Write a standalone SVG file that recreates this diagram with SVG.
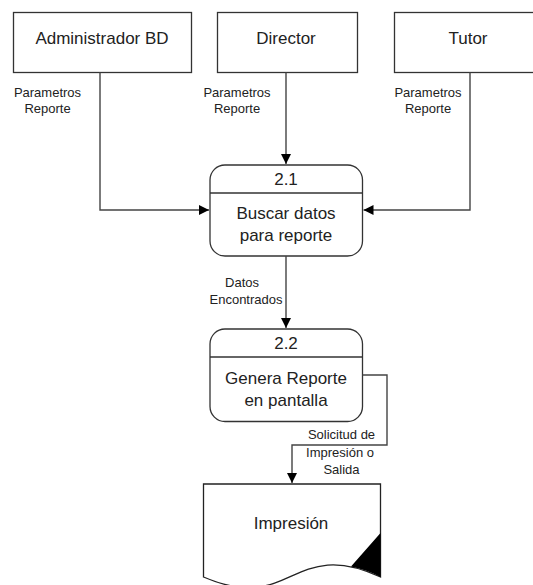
<svg xmlns="http://www.w3.org/2000/svg" width="533" height="585" viewBox="0 0 533 585">
<style>
.box{fill:#fff;stroke:#333;stroke-width:1.3}
.conn{fill:none;stroke:#444;stroke-width:1.4}
.t{font-family:"Liberation Sans",Arial,sans-serif;font-size:17px;fill:#222;text-anchor:middle}
.s{font-family:"Liberation Sans",Arial,sans-serif;font-size:13px;fill:#222;text-anchor:middle}
</style>
<defs>
<marker id="arr" viewBox="0 0 10 10" refX="10" refY="5" markerWidth="10" markerHeight="10" markerUnits="userSpaceOnUse" orient="auto">
<path d="M0,0 L10,5 L0,10 Z" fill="#000"/>
</marker>
</defs>
<rect width="533" height="585" fill="#fff"/>
<g id="admin">
<rect class="box" x="13.5" y="12.5" width="178" height="60"/>
<text class="t" x="102" y="44">Administrador BD</text>
</g>
<g id="director">
<rect class="box" x="217.5" y="12.5" width="140" height="60"/>
<text class="t" x="286" y="44">Director</text>
</g>
<g id="tutor">
<rect class="box" x="394.5" y="12.5" width="145" height="60"/>
<text class="t" x="468" y="44">Tutor</text>
</g>
<g id="p21">
<rect class="box" x="210" y="165" width="152.5" height="91" rx="15"/>
<line x1="210" y1="193" x2="362.5" y2="193" stroke="#333" stroke-width="1.3"/>
<text class="t" x="286" y="185">2.1</text>
<text class="t" x="286" y="219">Buscar datos</text>
<text class="t" x="286" y="241">para reporte</text>
</g>
<g id="p22">
<rect class="box" x="210" y="329" width="152.5" height="92.5" rx="15"/>
<line x1="210" y1="357" x2="362.5" y2="357" stroke="#333" stroke-width="1.3"/>
<text class="t" x="286" y="349">2.2</text>
<text class="t" x="286" y="384">Genera Reporte</text>
<text class="t" x="286" y="406">en pantalla</text>
</g>
<g id="impresion">
<path d="M203.5,484 L380.5,484 L380.5,577 C292,536 292,615 203.5,577 Z" fill="#fff" stroke="#222" stroke-width="1.3"/>
<path d="M380.5,533 L351,566.5 C362,569 371,572 380.5,577 Z" fill="#000"/>
<text class="t" x="291" y="529">Impresión</text>
</g>
<g id="connectors">
<polyline class="conn" points="100,72.5 100,210 209,210" marker-end="url(#arr)"/>
<polyline class="conn" points="286,72.5 286,164" marker-end="url(#arr)"/>
<polyline class="conn" points="470,72.5 470,210 363.5,210" marker-end="url(#arr)"/>
<polyline class="conn" points="286,256 286,328" marker-end="url(#arr)"/>
<polyline class="conn" points="362.5,375 387,375 387,445 292,445 292,483" marker-end="url(#arr)"/>
<text class="s" x="47.5" y="97">Parametros</text>
<text class="s" x="47.5" y="113">Reporte</text>
<text class="s" x="237" y="97">Parametros</text>
<text class="s" x="237" y="113">Reporte</text>
<text class="s" x="428" y="97">Parametros</text>
<text class="s" x="428" y="113">Reporte</text>
<text class="s" x="242" y="287">Datos</text>
<text class="s" x="246" y="304">Encontrados</text>
<text class="s" x="341.5" y="439">Solicitud de</text>
<text class="s" x="340" y="457">Impresión o</text>
<text class="s" x="341.5" y="474">Salida</text>
</g>
</svg>
